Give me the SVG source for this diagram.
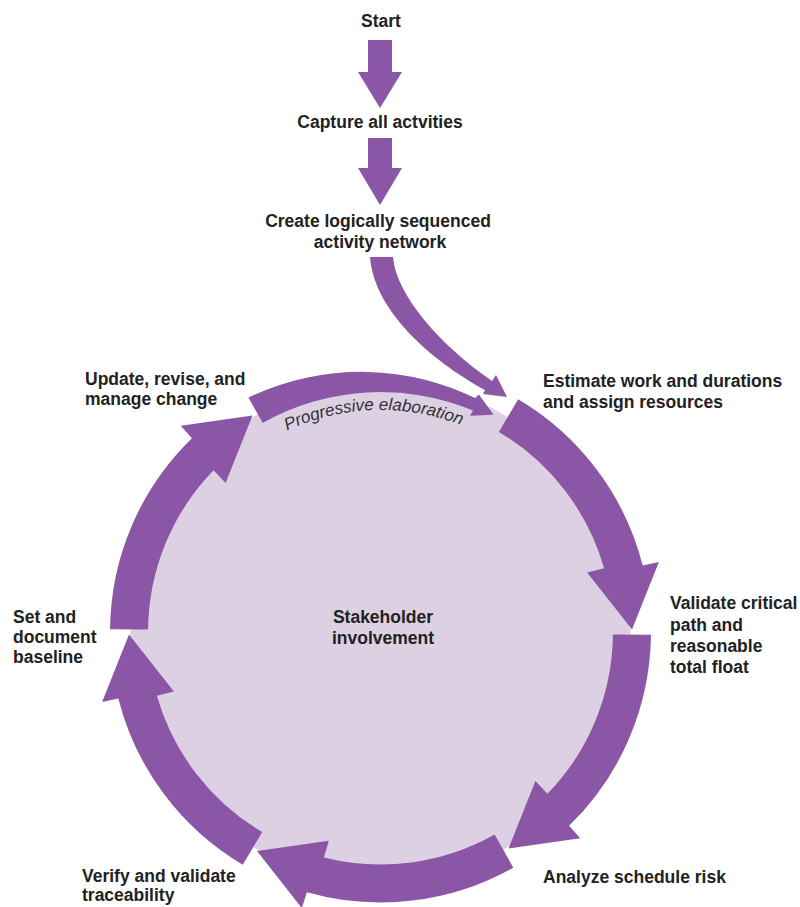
<svg xmlns="http://www.w3.org/2000/svg" xmlns:xlink="http://www.w3.org/1999/xlink" width="800" height="907" viewBox="0 0 800 907">
<style>
  .lbl { font-family: "Liberation Sans", Arial, sans-serif; font-weight: bold; font-size: 17.5px; fill: #222222; }
  .mid { text-anchor: middle; }
  .arr { fill: #8b56a6; }
  .pe { font-family: "Liberation Sans", Arial, sans-serif; font-style: italic; font-size: 17px; fill: #333333; }
</style>
<defs>
  <path id="seg" d="M518.2 399.2 A270.5 270.5 0 0 1 642.7 565.6 L658.9 562.1 L632.0 629.4 L587.1 572.4 L604.1 568.3 A232.5 232.5 0 0 0 498.8 431.9 Z"/>
  <path id="peArc" d="M208.5 491.7 A222 222 0 0 1 548.6 486.9"/>
</defs>
<rect width="800" height="907" fill="#ffffff"/>

<g id="stakeholder">
  <circle cx="380.5" cy="632" r="250" fill="#ddd0e3"/>
  <text class="lbl mid" x="383" y="623">Stakeholder</text>
  <text class="lbl mid" x="383" y="644">involvement</text>
</g>

<g id="connectors" class="arr">
  <path d="M368 40 H392 V72 H402 L380 108 L358 72 H368 Z"/>
  <path d="M368 138 H392 V168 H402 L380 205 L358 168 H368 Z"/>
  <path d="M370 257 C374 310 430 360 485 390 L483 394 L507 397 L496 375 L492 381 C440 345 396 295 393 257 Z"/>
  <use xlink:href="#seg"/>
  <use xlink:href="#seg" transform="rotate(60 380.5 632)"/>
  <use xlink:href="#seg" transform="rotate(120 380.5 632)"/>
  <use xlink:href="#seg" transform="rotate(180 380.5 632)"/>
  <use xlink:href="#seg" transform="rotate(240 380.5 632)"/>
  <path d="M248.4 397.6 A267 267 0 0 1 307.5 377.5 A262.6 262.6 0 0 1 366.9 371.9 A258.3 258.3 0 0 1 425.0 379.7 A254 254 0 0 1 475.0 398.1 L478.9 394.6 L493.6 414.7 L470.0 415.8 L473.1 410.6 A240 240 0 0 0 262.7 422.9 Z"/>
</g>

<g id="progressive-elaboration">
  <text class="pe"><textPath xlink:href="#peArc" startOffset="49%" text-anchor="middle">Progressive elaboration</textPath></text>
</g>

<g id="start"><text class="lbl mid" x="381" y="27">Start</text></g>
<g id="capture"><text class="lbl mid" x="380" y="128">Capture all actvities</text></g>
<g id="create">
  <text class="lbl mid" x="378" y="227">Create logically sequenced</text>
  <text class="lbl mid" x="380" y="248">activity network</text>
</g>
<g id="estimate">
  <text class="lbl" x="543" y="387">Estimate work and durations</text>
  <text class="lbl" x="543" y="408">and assign resources</text>
</g>
<g id="validate">
  <text class="lbl" x="670" y="609">Validate critical</text>
  <text class="lbl" x="670" y="631">path and</text>
  <text class="lbl" x="670" y="652">reasonable</text>
  <text class="lbl" x="670" y="673">total float</text>
</g>
<g id="analyze"><text class="lbl" x="543" y="883">Analyze schedule risk</text></g>
<g id="verify">
  <text class="lbl" x="82" y="882">Verify and validate</text>
  <text class="lbl" x="82" y="901">traceability</text>
</g>
<g id="baseline">
  <text class="lbl" x="13" y="623">Set and</text>
  <text class="lbl" x="13" y="643">document</text>
  <text class="lbl" x="13" y="663">baseline</text>
</g>
<g id="update">
  <text class="lbl" x="85" y="385">Update, revise, and</text>
  <text class="lbl" x="85" y="405">manage change</text>
</g>
</svg>
